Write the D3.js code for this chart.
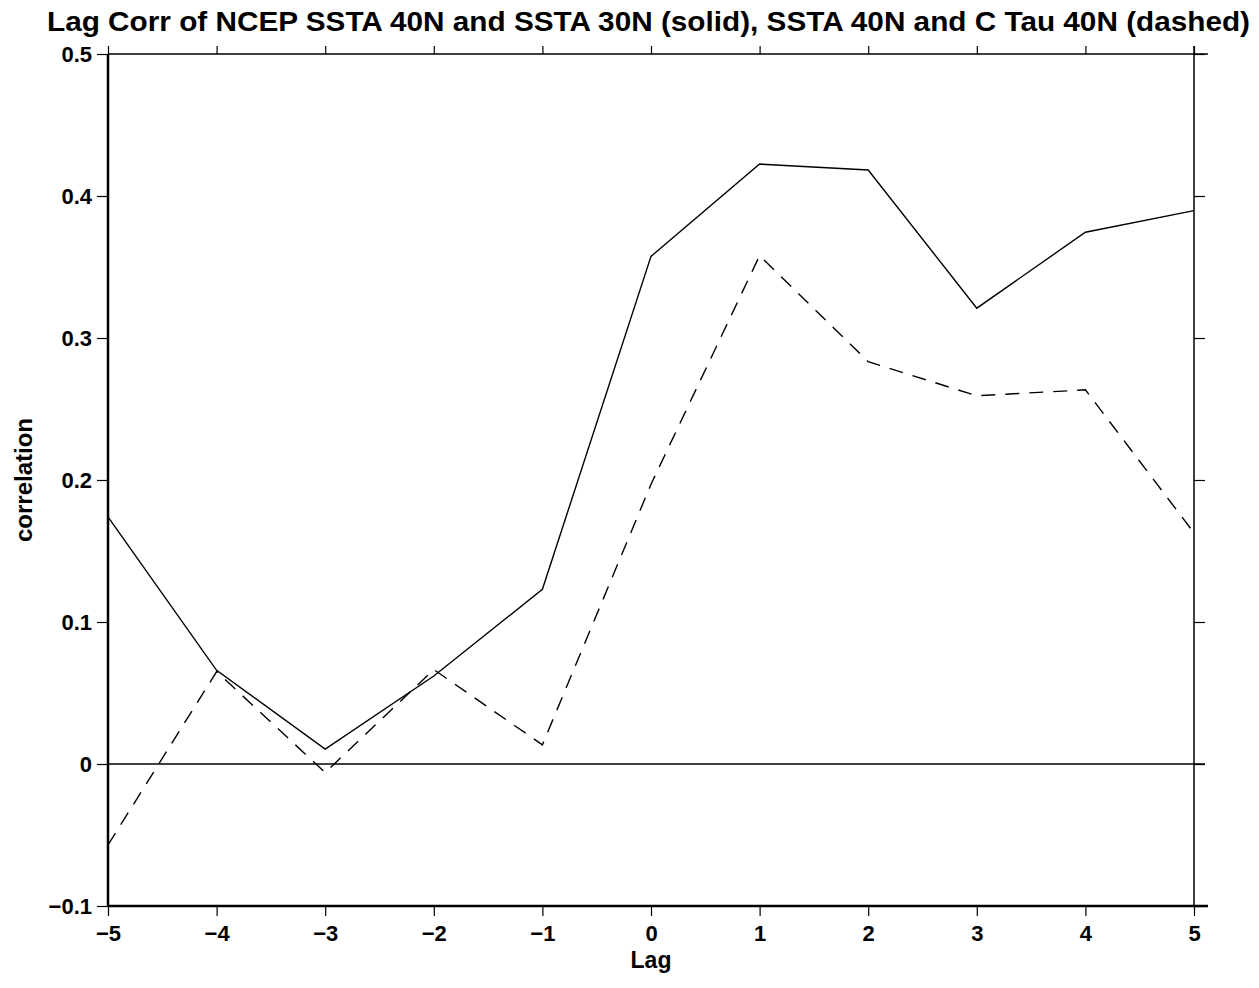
<!DOCTYPE html>
<html>
<head>
<meta charset="utf-8">
<script src="https://cdn.jsdelivr.net/npm/d3@7"></script>
<style>
    body { margin: 0; background: #ffffff; }
    text { font-family: "Liberation Sans", Arial, Helvetica, sans-serif; font-weight: bold; fill: #000; }
</style>
</head>
<body>
<div id="chart"></div>
<script>
// lag values and the two correlation series
const lags = [-5, -4, -3, -2, -1, 0, 1, 2, 3, 4, 5];
const solidCorr = [0.174, 0.066, 0.0105, 0.062, 0.123, 0.3575, 0.4225, 0.4183, 0.321, 0.3745, 0.3897];
const dashedCorr = [-0.057, 0.065, -0.006, 0.0665, 0.0135, 0.197, 0.358, 0.2833, 0.2593, 0.2635, 0.1628];
const yTicks = [-0.1, 0, 0.1, 0.2, 0.3, 0.4, 0.5];
const xTicks = [-5, -4, -3, -2, -1, 0, 1, 2, 3, 4, 5];

const titleText = "Lag Corr of NCEP SSTA 40N and SSTA 30N (solid), SSTA 40N and C Tau 40N (dashed)";

let W = 1259, H = 988;
let margin = {top: 54, right: 65, bottom: 82, left: 108};
let width = W - margin.left - margin.right;
let height = H - margin.top - margin.bottom;

let svg = d3.select("#chart").append("svg")
    .attr("width", W)
    .attr("height", H);

let g = svg.append("g")
    .attr("transform", `translate(${margin.left}, ${margin.top})`);

let x = d3.scaleLinear().domain([-5, 5]).range([0, width]);
let y = d3.scaleLinear().domain([-0.1, 0.5]).range([height, 0]);

let fmt = d => d === 0 ? "0" : d3.format(".1f")(d).replace("-", "\u2212");
let fmtX = d => String(d).replace("-", "\u2212");

// Bottom axis
let bottomAxis = g.append("g")
    .attr("transform", `translate(0, ${height})`)
    .call(d3.axisBottom(x).tickValues(xTicks).tickSize(10).tickPadding(9).tickFormat(fmtX));
bottomAxis.select(".domain").remove();
bottomAxis.selectAll("line").attr("stroke", "#000").attr("stroke-width", 1.2);
bottomAxis.selectAll("text").style("font-size", "22px").attr("fill", "#000");

// Top axis, ticks only
let topAxis = g.append("g")
    .call(d3.axisTop(x).tickValues(xTicks).tickSize(8).tickFormat(""));
topAxis.select(".domain").remove();
topAxis.selectAll("line").attr("stroke", "#000").attr("stroke-width", 1.2);

// Left axis
let leftAxis = g.append("g")
    .call(d3.axisLeft(y).tickValues(yTicks).tickSize(11).tickPadding(5).tickFormat(fmt));
leftAxis.select(".domain").remove();
leftAxis.selectAll("line").attr("stroke", "#000").attr("stroke-width", 1.2);
leftAxis.selectAll("text").style("font-size", "22px").attr("fill", "#000");

// Right axis, ticks only
let rightAxis = g.append("g")
    .attr("transform", `translate(${width}, 0)`)
    .call(d3.axisRight(y).tickValues(yTicks).tickSize(11).tickFormat(""));
rightAxis.select(".domain").remove();
rightAxis.selectAll("line").attr("stroke", "#000").attr("stroke-width", 1.2);

// Frame lines
g.append("line")
    .attr("x1", 0).attr("x2", width + 14)
    .attr("y1", 0).attr("y2", 0)
    .attr("stroke", "#000").attr("stroke-width", 1.5);
g.append("line")
    .attr("x1", width).attr("x2", width)
    .attr("y1", -8).attr("y2", height)
    .attr("stroke", "#000").attr("stroke-width", 1.5);
g.append("line")
    .attr("x1", 0).attr("x2", width + 14)
    .attr("y1", height).attr("y2", height)
    .attr("stroke", "#000").attr("stroke-width", 2.5);
g.append("line")
    .attr("x1", 0).attr("x2", 0)
    .attr("y1", 0).attr("y2", height + 1)
    .attr("stroke", "#000").attr("stroke-width", 2.5);

// Zero line
g.append("line")
    .attr("x1", 0).attr("x2", width + 11)
    .attr("y1", y(0)).attr("y2", y(0))
    .attr("stroke", "#000").attr("stroke-width", 1.3);

// Series
let line = d3.line()
    .x((d, i) => x(lags[i]))
    .y(d => y(d));

g.append("path")
    .datum(solidCorr)
    .attr("d", line)
    .attr("fill", "none")
    .attr("stroke", "#000")
    .attr("stroke-width", 1.4);

g.append("path")
    .datum(dashedCorr)
    .attr("d", line)
    .attr("fill", "none")
    .attr("stroke", "#000")
    .attr("stroke-width", 1.4)
    .attr("stroke-dasharray", "14,10");

// Title
svg.append("text")
    .attr("x", 47)
    .attr("y", 31)
    .attr("textLength", 1203)
    .attr("lengthAdjust", "spacingAndGlyphs")
    .style("font-size", "28px")
    .text(titleText);

// Axis titles
svg.append("text")
    .attr("x", margin.left + width / 2)
    .attr("y", 968)
    .attr("text-anchor", "middle")
    .style("font-size", "23px")
    .text("Lag");

svg.append("text")
    .attr("transform", `translate(32, ${margin.top + y(0.2)})rotate(-90)`)
    .attr("text-anchor", "middle")
    .style("font-size", "24px")
    .text("correlation");
</script>
</body>
</html>
